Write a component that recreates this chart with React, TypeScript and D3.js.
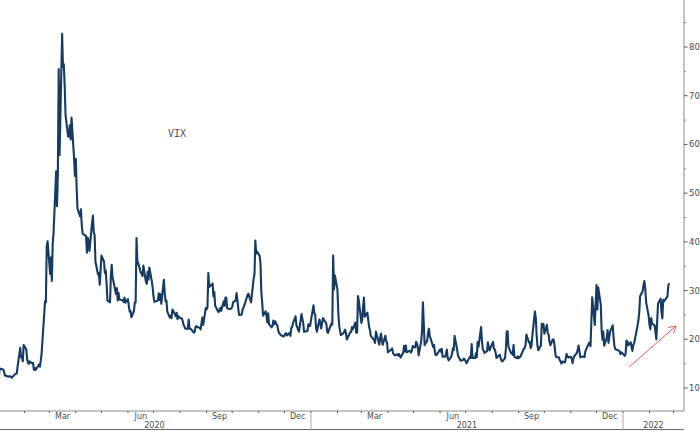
import React from "react";
import * as d3 from "d3";

// VIX daily closes, Dec 31 2019 – Feb 24 2022
const vixSeries: [string, number][] = [
  ["2019-12-31",13.78],
  ["2020-01-02",12.47],["2020-01-03",14.02],["2020-01-06",13.85],["2020-01-07",13.79],["2020-01-08",13.45],["2020-01-09",12.54],["2020-01-10",12.56],["2020-01-13",12.32],["2020-01-14",12.39],["2020-01-15",12.42],["2020-01-16",12.32],["2020-01-17",12.10],["2020-01-21",12.85],["2020-01-22",12.91],["2020-01-23",12.98],["2020-01-24",14.56],["2020-01-27",18.23],["2020-01-28",16.28],["2020-01-29",16.39],["2020-01-30",15.49],["2020-01-31",18.84],
  ["2020-02-03",17.97],["2020-02-04",16.05],["2020-02-05",15.15],["2020-02-06",14.96],["2020-02-07",15.47],["2020-02-10",15.04],["2020-02-11",15.18],["2020-02-12",13.74],["2020-02-13",14.15],["2020-02-14",13.68],["2020-02-18",14.83],["2020-02-19",14.38],["2020-02-20",15.56],["2020-02-21",17.08],["2020-02-24",25.03],["2020-02-25",27.85],["2020-02-26",27.56],["2020-02-27",39.16],["2020-02-28",40.11],
  ["2020-03-02",33.42],["2020-03-03",36.82],["2020-03-04",31.99],["2020-03-05",39.62],["2020-03-06",41.94],["2020-03-09",54.46],["2020-03-10",47.30],["2020-03-11",53.90],["2020-03-12",75.47],["2020-03-13",57.83],["2020-03-16",82.69],["2020-03-17",75.91],["2020-03-18",76.45],["2020-03-19",72.00],["2020-03-20",66.04],["2020-03-23",61.59],["2020-03-24",61.67],["2020-03-25",63.95],["2020-03-26",61.00],["2020-03-27",65.54],["2020-03-30",57.08],["2020-03-31",53.54],
  ["2020-04-01",57.06],["2020-04-02",50.91],["2020-04-03",46.80],["2020-04-06",45.24],["2020-04-07",46.70],["2020-04-08",43.35],["2020-04-09",41.67],["2020-04-13",41.17],["2020-04-14",37.76],["2020-04-15",40.84],["2020-04-16",40.11],["2020-04-17",38.15],["2020-04-20",43.83],["2020-04-21",45.41],["2020-04-22",41.98],["2020-04-23",41.38],["2020-04-24",35.93],["2020-04-27",33.29],["2020-04-28",33.57],["2020-04-29",31.23],["2020-04-30",34.15],
  ["2020-05-01",37.19],["2020-05-04",35.97],["2020-05-05",33.61],["2020-05-06",34.12],["2020-05-07",31.44],["2020-05-08",27.98],["2020-05-11",27.57],["2020-05-12",33.04],["2020-05-13",35.28],["2020-05-14",32.61],["2020-05-15",31.89],["2020-05-18",29.30],["2020-05-19",30.53],["2020-05-20",27.99],["2020-05-21",29.53],["2020-05-22",28.16],["2020-05-26",28.01],["2020-05-27",27.62],["2020-05-28",28.59],["2020-05-29",27.51],
  ["2020-06-01",28.23],["2020-06-02",26.84],["2020-06-03",25.66],["2020-06-04",25.81],["2020-06-05",24.52],["2020-06-08",25.81],["2020-06-09",27.57],["2020-06-10",27.57],["2020-06-11",40.79],["2020-06-12",36.09],["2020-06-15",34.40],["2020-06-16",33.67],["2020-06-17",33.47],["2020-06-18",32.94],["2020-06-19",35.12],["2020-06-22",31.77],["2020-06-23",31.37],["2020-06-24",33.84],["2020-06-25",32.22],["2020-06-26",34.73],["2020-06-29",31.78],["2020-06-30",30.43],
  ["2020-07-01",28.62],["2020-07-02",27.68],["2020-07-06",27.94],["2020-07-07",29.43],["2020-07-08",28.08],["2020-07-09",29.26],["2020-07-10",27.29],["2020-07-13",32.19],["2020-07-14",29.52],["2020-07-15",27.76],["2020-07-16",28.00],["2020-07-17",25.68],["2020-07-20",24.46],["2020-07-21",24.84],["2020-07-22",24.32],["2020-07-23",26.08],["2020-07-24",25.84],["2020-07-27",24.74],["2020-07-28",25.44],["2020-07-29",24.10],["2020-07-30",24.76],["2020-07-31",24.46],
  ["2020-08-03",24.28],["2020-08-04",23.76],["2020-08-05",22.99],["2020-08-06",22.65],["2020-08-07",22.21],["2020-08-10",22.13],["2020-08-11",24.03],["2020-08-12",22.28],["2020-08-13",22.13],["2020-08-14",22.05],["2020-08-17",21.35],["2020-08-18",21.51],["2020-08-19",22.54],["2020-08-20",22.72],["2020-08-21",22.54],["2020-08-24",22.37],["2020-08-25",22.03],["2020-08-26",23.27],["2020-08-27",24.47],["2020-08-28",22.96],["2020-08-31",26.41],
  ["2020-09-01",26.12],["2020-09-02",26.57],["2020-09-03",33.60],["2020-09-04",30.75],["2020-09-08",31.46],["2020-09-09",28.81],["2020-09-10",29.71],["2020-09-11",26.87],["2020-09-14",25.85],["2020-09-15",25.59],["2020-09-16",26.04],["2020-09-17",26.46],["2020-09-18",25.83],["2020-09-21",27.78],["2020-09-22",26.86],["2020-09-23",28.58],["2020-09-24",28.51],["2020-09-25",26.38],["2020-09-28",26.19],["2020-09-29",26.27],["2020-09-30",26.37],
  ["2020-10-01",26.70],["2020-10-02",27.63],["2020-10-05",27.96],["2020-10-06",29.48],["2020-10-07",28.06],["2020-10-08",26.36],["2020-10-09",25.00],["2020-10-12",25.07],["2020-10-13",26.07],["2020-10-14",26.40],["2020-10-15",26.97],["2020-10-16",27.41],["2020-10-19",29.18],["2020-10-20",29.35],["2020-10-21",28.65],["2020-10-22",28.11],["2020-10-23",27.55],["2020-10-26",32.46],["2020-10-27",33.35],["2020-10-28",40.28],["2020-10-29",37.59],["2020-10-30",38.02],
  ["2020-11-02",37.13],["2020-11-03",35.55],["2020-11-04",29.57],["2020-11-05",27.58],["2020-11-06",24.86],["2020-11-09",25.75],["2020-11-10",24.80],["2020-11-11",23.45],["2020-11-12",25.35],["2020-11-13",23.10],["2020-11-16",22.45],["2020-11-17",22.71],["2020-11-18",23.84],["2020-11-19",23.11],["2020-11-20",23.70],["2020-11-23",22.66],["2020-11-24",21.64],["2020-11-25",21.25],["2020-11-27",20.84],["2020-11-30",20.57],
  ["2020-12-01",20.77],["2020-12-02",21.17],["2020-12-03",21.28],["2020-12-04",20.79],["2020-12-07",21.30],["2020-12-08",20.68],["2020-12-09",22.27],["2020-12-10",22.52],["2020-12-11",23.31],["2020-12-14",24.72],["2020-12-15",22.89],["2020-12-16",22.50],["2020-12-17",21.93],["2020-12-18",21.57],["2020-12-21",25.16],["2020-12-22",24.23],["2020-12-23",23.31],["2020-12-24",21.53],["2020-12-28",21.70],["2020-12-29",23.08],["2020-12-30",22.77],["2020-12-31",22.75],
  ["2021-01-04",26.97],["2021-01-05",25.34],["2021-01-06",25.07],["2021-01-07",22.37],["2021-01-08",21.56],["2021-01-11",24.08],["2021-01-12",23.33],["2021-01-13",22.21],["2021-01-14",23.25],["2021-01-15",24.34],["2021-01-19",23.24],["2021-01-20",21.58],["2021-01-21",21.32],["2021-01-22",21.91],["2021-01-25",23.19],["2021-01-26",23.02],["2021-01-27",37.21],["2021-01-28",30.21],["2021-01-29",33.09],
  ["2021-02-01",30.24],["2021-02-02",25.56],["2021-02-03",22.91],["2021-02-04",21.77],["2021-02-05",20.87],["2021-02-08",21.24],["2021-02-09",21.63],["2021-02-10",21.99],["2021-02-11",21.25],["2021-02-12",19.97],["2021-02-16",21.46],["2021-02-17",21.50],["2021-02-18",22.49],["2021-02-19",22.05],["2021-02-22",23.45],["2021-02-23",21.34],["2021-02-24",21.34],["2021-02-25",28.89],["2021-02-26",27.95],
  ["2021-03-01",23.35],["2021-03-02",24.10],["2021-03-03",26.67],["2021-03-04",28.57],["2021-03-05",24.66],["2021-03-08",25.47],["2021-03-09",24.03],["2021-03-10",22.56],["2021-03-11",21.91],["2021-03-12",20.69],["2021-03-15",20.03],["2021-03-16",19.79],["2021-03-17",19.23],["2021-03-18",21.58],["2021-03-19",20.95],["2021-03-22",18.88],["2021-03-23",20.30],["2021-03-24",21.20],["2021-03-25",19.81],["2021-03-26",18.86],["2021-03-29",20.74],["2021-03-30",19.61],["2021-03-31",19.40],
  ["2021-04-01",17.33],["2021-04-05",17.91],["2021-04-06",18.12],["2021-04-07",17.16],["2021-04-08",16.95],["2021-04-09",16.69],["2021-04-12",16.91],["2021-04-13",16.65],["2021-04-14",16.99],["2021-04-15",16.57],["2021-04-16",16.25],["2021-04-19",17.29],["2021-04-20",18.68],["2021-04-21",17.50],["2021-04-22",18.71],["2021-04-23",17.33],["2021-04-26",17.64],["2021-04-27",17.56],["2021-04-28",17.28],["2021-04-29",17.61],["2021-04-30",18.61],
  ["2021-05-03",18.31],["2021-05-04",19.48],["2021-05-05",19.15],["2021-05-06",18.39],["2021-05-07",16.69],["2021-05-10",19.66],["2021-05-11",21.84],["2021-05-12",27.59],["2021-05-13",23.13],["2021-05-14",18.81],["2021-05-17",19.72],["2021-05-18",21.34],["2021-05-19",22.18],["2021-05-20",20.67],["2021-05-21",20.15],["2021-05-24",18.40],["2021-05-25",18.84],["2021-05-26",17.36],["2021-05-27",16.74],["2021-05-28",16.76],
  ["2021-06-01",17.90],["2021-06-02",17.48],["2021-06-03",18.04],["2021-06-04",16.42],["2021-06-07",16.42],["2021-06-08",17.07],["2021-06-09",17.89],["2021-06-10",16.10],["2021-06-11",15.65],["2021-06-14",16.39],["2021-06-15",17.02],["2021-06-16",18.15],["2021-06-17",17.75],["2021-06-18",20.70],["2021-06-21",17.89],["2021-06-22",16.66],["2021-06-23",16.32],["2021-06-24",15.97],["2021-06-25",15.62],["2021-06-28",15.76],["2021-06-29",16.02],["2021-06-30",15.83],
  ["2021-07-01",15.48],["2021-07-02",15.07],["2021-07-06",16.44],["2021-07-07",16.20],["2021-07-08",19.00],["2021-07-09",16.18],["2021-07-12",16.17],["2021-07-13",17.12],["2021-07-14",16.33],["2021-07-15",19.45],["2021-07-16",18.45],["2021-07-19",22.50],["2021-07-20",19.73],["2021-07-21",17.91],["2021-07-22",17.69],["2021-07-23",17.20],["2021-07-26",17.58],["2021-07-27",19.36],["2021-07-28",18.31],["2021-07-29",17.70],["2021-07-30",18.24],
  ["2021-08-02",19.46],["2021-08-03",18.04],["2021-08-04",17.97],["2021-08-05",17.28],["2021-08-06",16.15],["2021-08-09",16.72],["2021-08-10",16.79],["2021-08-11",16.06],["2021-08-12",15.59],["2021-08-13",15.45],["2021-08-16",16.12],["2021-08-17",17.91],["2021-08-18",21.57],["2021-08-19",21.67],["2021-08-20",18.56],["2021-08-23",17.15],["2021-08-24",17.22],["2021-08-25",16.79],["2021-08-26",18.84],["2021-08-27",16.39],["2021-08-30",16.11],["2021-08-31",16.48],
  ["2021-09-01",16.11],["2021-09-02",16.41],["2021-09-03",16.41],["2021-09-07",18.06],["2021-09-08",18.23],["2021-09-09",18.80],["2021-09-10",20.95],["2021-09-13",19.37],["2021-09-14",19.46],["2021-09-15",18.18],["2021-09-16",18.69],["2021-09-17",20.81],["2021-09-20",25.71],["2021-09-21",24.36],["2021-09-22",20.87],["2021-09-23",18.63],["2021-09-24",17.75],["2021-09-27",18.76],["2021-09-28",23.25],["2021-09-29",22.56],["2021-09-30",23.14],
  ["2021-10-01",21.15],["2021-10-04",22.96],["2021-10-05",21.30],["2021-10-06",21.00],["2021-10-07",19.54],["2021-10-08",18.77],["2021-10-11",20.00],["2021-10-12",19.85],["2021-10-13",18.64],["2021-10-14",16.86],["2021-10-15",16.30],["2021-10-18",16.30],["2021-10-19",15.70],["2021-10-20",15.49],["2021-10-21",15.01],["2021-10-22",15.43],["2021-10-25",15.24],["2021-10-26",15.98],["2021-10-27",16.98],["2021-10-28",16.53],["2021-10-29",16.26],
  ["2021-11-01",16.41],["2021-11-02",16.03],["2021-11-03",15.10],["2021-11-04",16.03],["2021-11-05",16.48],["2021-11-08",17.22],["2021-11-09",17.78],["2021-11-10",18.73],["2021-11-11",17.66],["2021-11-12",16.29],["2021-11-15",16.49],["2021-11-16",16.37],["2021-11-17",16.35],["2021-11-18",17.59],["2021-11-19",17.91],["2021-11-22",19.17],["2021-11-23",19.38],["2021-11-24",18.58],["2021-11-26",28.62],["2021-11-29",22.96],["2021-11-30",27.19],
  ["2021-12-01",31.12],["2021-12-02",26.10],["2021-12-03",30.67],["2021-12-06",27.18],["2021-12-07",21.89],["2021-12-08",19.90],["2021-12-09",21.58],["2021-12-10",18.69],["2021-12-13",20.31],["2021-12-14",21.89],["2021-12-15",19.29],["2021-12-16",20.57],["2021-12-17",21.57],["2021-12-20",22.87],["2021-12-21",20.31],["2021-12-22",18.63],["2021-12-23",17.96],["2021-12-27",17.68],["2021-12-28",17.54],["2021-12-29",16.95],["2021-12-30",17.33],["2021-12-31",17.22],
  ["2022-01-03",16.60],["2022-01-04",16.91],["2022-01-05",19.73],["2022-01-06",19.61],["2022-01-07",18.76],["2022-01-10",19.40],["2022-01-11",18.41],["2022-01-12",17.62],["2022-01-13",18.83],["2022-01-14",19.19],["2022-01-18",22.79],["2022-01-19",23.85],["2022-01-20",25.59],["2022-01-21",28.85],["2022-01-24",29.90],["2022-01-25",31.16],["2022-01-26",31.96],["2022-01-27",30.49],["2022-01-28",27.66],["2022-01-31",24.83],
  ["2022-02-01",22.96],["2022-02-02",22.09],["2022-02-03",24.35],["2022-02-04",23.22],["2022-02-07",22.86],["2022-02-08",21.44],["2022-02-09",19.96],["2022-02-10",23.91],["2022-02-11",27.36],["2022-02-14",28.33],["2022-02-15",25.70],["2022-02-16",24.29],["2022-02-17",28.11],["2022-02-18",27.75],["2022-02-22",28.81],["2022-02-23",31.02],["2022-02-24",31.50],
];

const yTickValues = [10, 20, 30, 40, 50, 60, 70, 80];
const yMinorValues = [15, 25, 35, 45, 55, 65, 75, 85];
const monthLabels = ["Mar", "Jun", "Sep", "Dec"];
const yearLabels = ["2020", "2021", "2022"];
const seriesLabel = "VIX";

const W = 700;
const H = 431;

export default function App() {
  const parse = d3.timeParse("%Y-%m-%d");
  const data = vixSeries.map(([d, v]) => ({ date: parse(d) as Date, value: v }));

  const axisX = 684;
  const axisY = 411;
  const bottomY = 429.5;

  const x = d3
    .scaleTime()
    .domain([new Date(2020, 0, 1), new Date(2022, 0, 1)])
    .range([-2, 623]);
  const y = d3.scaleLinear().domain([10, 80]).range([388, 47]);

  const line = d3
    .line<{ date: Date; value: number }>()
    .x((d) => x(d.date))
    .y((d) => y(d.value));

  const endDate = x.invert(axisX);
  const monthTicks = d3.timeMonth.range(new Date(2020, 0, 1), endDate);
  const labeledMonths = monthTicks.filter(
    (m) =>
      monthLabels.includes(d3.timeFormat("%b")(m)) &&
      d3.timeMonth.offset(m, 1) <= endDate
  );
  const years = yearLabels.map((yl) => {
    const yr = +yl;
    const start = Math.max(x(new Date(yr, 0, 1)), -2);
    const end = Math.min(x(new Date(yr + 1, 0, 1)), axisX);
    return { label: yl, start, end };
  });

  const axisColor = "#8a8a8a";
  const textColor = "#4a4a4a";
  const font = "'DejaVu Sans', 'Liberation Sans', sans-serif";

  return (
    <svg
      width={W}
      height={H}
      style={{ position: "absolute", left: 0, top: 0, background: "#fff" }}
    >
      <defs>
        <clipPath id="plot">
          <rect x={0} y={0} width={axisX} height={axisY} />
        </clipPath>
      </defs>
      <rect x={0} y={0} width={W} height={H} fill="#fff" />

      {/* right axis */}
      <line x1={axisX} x2={axisX} y1={0} y2={axisY} stroke={axisColor} strokeWidth={1} />
      {yMinorValues.map((v) => (
        <line key={"m" + v} x1={axisX} x2={axisX + 2} y1={y(v)} y2={y(v)} stroke={axisColor} />
      ))}
      {yTickValues.map((v) => (
        <g key={v}>
          <line x1={axisX} x2={axisX + 3.5} y1={y(v)} y2={y(v)} stroke="#555" />
          <text
            x={axisX + 5}
            y={y(v)}
            dy="0.35em"
            fontSize={8.5}
            fontFamily={font}
            fill={textColor}
          >
            {v}
          </text>
        </g>
      ))}

      {/* bottom axis */}
      <line x1={0} x2={axisX} y1={axisY} y2={axisY} stroke={axisColor} />
      <line x1={0} x2={axisX} y1={bottomY} y2={bottomY} stroke="#6a6a6a" strokeWidth={1.2} />
      {monthTicks.map((m, i) => (
        <line
          key={"t" + i}
          x1={x(m)}
          x2={x(m)}
          y1={axisY}
          y2={axisY + 2}
          stroke="#555"
        />
      ))}
      {labeledMonths.map((m, i) => {
        const next = d3.timeMonth.offset(m, 1);
        return (
          <text
            key={"ml" + i}
            x={(x(m) + x(next)) / 2}
            y={419}
            textAnchor="middle"
            fontSize={8}
            fontFamily={font}
            fill={textColor}
          >
            {d3.timeFormat("%b")(m)}
          </text>
        );
      })}
      {years.map((yr, i) => (
        <g key={yr.label}>
          {i > 0 && (
            <line
              x1={yr.start}
              x2={yr.start}
              y1={axisY}
              y2={H}
              stroke="#aaa"
            />
          )}
          <text
            x={(yr.start + yr.end) / 2}
            y={427.5}
            textAnchor="middle"
            fontSize={8}
            fontFamily={font}
            fill={textColor}
          >
            {yr.label}
          </text>
        </g>
      ))}

      {/* series */}
      <path
        d={line(data) || ""}
        fill="none"
        stroke="#163a60"
        strokeWidth={2.1}
        strokeLinejoin="round"
        clipPath="url(#plot)"
      />

      <text
        x={168}
        y={136.5}
        fontSize={10}
        fontFamily="'DejaVu Sans Mono', monospace"
        fill="#555"
      >
        {seriesLabel}
      </text>

      {/* annotation arrow */}
      <g stroke="#e0605a" strokeWidth={1} fill="none">
        <line x1={629} y1={367} x2={676} y2={326} />
        <polyline points="668,327.5 676,326 673.5,333.5" />
      </g>
    </svg>
  );
}
